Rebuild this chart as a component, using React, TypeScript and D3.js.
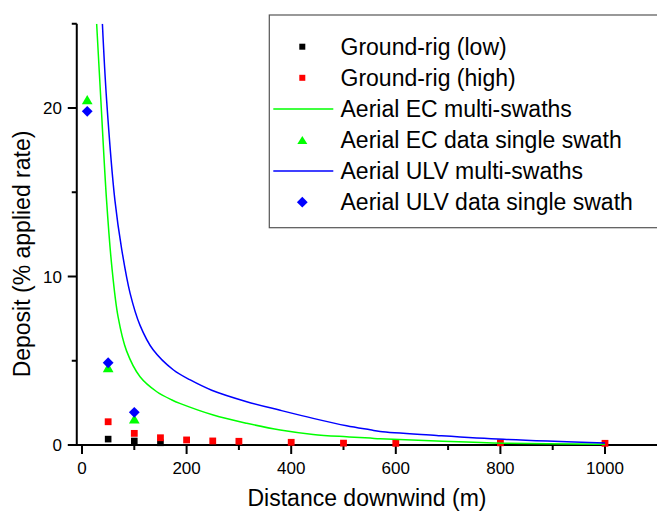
import React from "react";
import * as d3 from "d3";

const groundLowX = [50, 100, 150];
const groundLowY = [0.35, 0.24, 0.13];

const groundHighX = [50, 100, 150, 200, 250, 300, 400, 500, 600, 800, 1000];
const groundHighY = [1.38, 0.69, 0.43, 0.3, 0.24, 0.22, 0.16, 0.11, 0.1, 0.13, 0.1];

const ecLineX = [28, 36, 47, 57, 69, 85, 111, 143, 172, 187, 251, 315, 379, 442, 506, 551, 570, 678, 806, 1000];
const ecLineY = [25, 20.5, 14.5, 10.6, 7.6, 5.6, 4.05, 3.16, 2.67, 2.47, 1.78, 1.29, 0.89, 0.63, 0.49, 0.41, 0.37, 0.24, 0.11, 0.04];

const ecDataX = [10, 50, 100];
const ecDataY = [20.5, 4.6, 1.55];

const ulvLineX = [39, 47, 63, 76, 92, 111, 136, 175, 207, 248, 315, 379, 442, 506, 551, 570, 678, 806, 1000];
const ulvLineY = [25, 20.5, 14.5, 11.6, 9.0, 7.1, 5.65, 4.45, 3.86, 3.25, 2.57, 2.06, 1.58, 1.14, 0.9, 0.8, 0.57, 0.34, 0.12];

const ulvDataX = [10, 50, 100];
const ulvDataY = [19.8, 4.88, 1.94];

const xMajorTicks = [0, 200, 400, 600, 800, 1000];
const xMinorTicks = [100, 300, 500, 700, 900];
const yMajorTicks = [0, 10, 20];
const yMinorTicks = [5, 15, 25];

const legendLabels = [
  "Ground-rig (low)",
  "Ground-rig (high)",
  "Aerial EC multi-swaths",
  "Aerial EC data single swath",
  "Aerial ULV multi-swaths",
  "Aerial ULV data single swath",
];

const FONT = "'Liberation Sans', Arial, Helvetica, sans-serif";

export default function App() {
  const W = 657;
  const H = 511;
  const x = d3.scaleLinear().domain([-10, 1100]).range([76.77, 657.3]);
  const y = d3.scaleLinear().domain([0, 25]).range([445, 23.75]);
  const left = x(-10);
  const right = x(1100);
  const top = y(25);
  const bottom = y(0);

  const line = d3
    .line<[number, number]>()
    .x((d) => x(d[0]))
    .y((d) => y(d[1]))
    .curve(d3.curveCatmullRom.alpha(0.5));

  const ecPts = ecLineX.map((v, i) => [v, ecLineY[i]] as [number, number]);
  const ulvPts = ulvLineX.map((v, i) => [v, ulvLineY[i]] as [number, number]);

  const tri = (cx: number, cy: number, w: number, h: number) =>
    `M${cx},${cy - h / 2}L${cx + w / 2},${cy + h / 2}L${cx - w / 2},${cy + h / 2}Z`;
  const dia = (cx: number, cy: number, r: number) =>
    `M${cx},${cy - r}L${cx + r},${cy}L${cx},${cy + r}L${cx - r},${cy}Z`;

  const legRowY = (i: number) => 46.7 + i * 31.1;
  const legSymX = 302.3;

  return (
    <svg
      width={W}
      height={H}
      style={{ position: "absolute", left: 0, top: 0, background: "#fff" }}
      fontFamily={FONT}
    >
      <defs>
        <clipPath id="plotclip">
          <rect x={left} y={top} width={right - left} height={bottom - top} />
        </clipPath>
      </defs>
      <rect x={0} y={0} width={W} height={H} fill="#fff" />

      {/* axes */}
      <line x1={left} x2={left} y1={top} y2={bottom + 1} stroke="#000" strokeWidth={2} />
      <line x1={left - 1} x2={right} y1={bottom} y2={bottom} stroke="#000" strokeWidth={2} />
      {yMajorTicks.map((t) => (
        <g key={"ym" + t}>
          <line x1={left - 9} x2={left} y1={y(t)} y2={y(t)} stroke="#000" strokeWidth={2} />
          <text x={62} y={y(t)} dy="0.36em" textAnchor="end" fontSize={17} fill="#000">
            {t}
          </text>
        </g>
      ))}
      {yMinorTicks.map((t) => (
        <line key={"yn" + t} x1={left - 5} x2={left} y1={y(t)} y2={y(t)} stroke="#000" strokeWidth={2} />
      ))}
      {xMajorTicks.map((t) => (
        <g key={"xm" + t}>
          <line x1={x(t)} x2={x(t)} y1={bottom} y2={bottom + 9} stroke="#000" strokeWidth={2} />
          <text x={x(t)} y={473.5} textAnchor="middle" fontSize={17} fill="#000">
            {t}
          </text>
        </g>
      ))}
      {xMinorTicks.map((t) => (
        <line key={"xn" + t} x1={x(t)} x2={x(t)} y1={bottom} y2={bottom + 5} stroke="#000" strokeWidth={2} />
      ))}

      <text x={367} y={506} textAnchor="middle" fontSize={23} fill="#000">
        Distance downwind (m)
      </text>
      <text
        transform={`translate(30,254) rotate(-90)`}
        textAnchor="middle"
        fontSize={23}
        fill="#000"
      >
        Deposit (% applied rate)
      </text>

      {/* data */}
      <g>
        {groundLowX.map((v, i) => (
          <rect key={"gl" + i} x={x(v) - 3.3} y={y(groundLowY[i]) - 3.3} width={6.6} height={6.6} fill="#000" />
        ))}
        {groundHighX.map((v, i) => (
          <rect key={"gh" + i} x={x(v) - 3.4} y={y(groundHighY[i]) - 3.4} width={6.8} height={6.8} fill="#ff0000" />
        ))}
      </g>
      <g clipPath="url(#plotclip)">
        <path d={line(ecPts) || ""} fill="none" stroke="#00ff00" strokeWidth={1.5} />
        <path d={line(ulvPts) || ""} fill="none" stroke="#0000ff" strokeWidth={1.5} />
      </g>
      {ecDataX.map((v, i) => (
        <path key={"ec" + i} d={tri(x(v), y(ecDataY[i]), 10.7, 9.3)} fill="#00ff00" />
      ))}
      {ulvDataX.map((v, i) => (
        <path key={"ulv" + i} d={dia(x(v), y(ulvDataY[i]), 5.4)} fill="#0000ff" />
      ))}

      {/* legend */}
      <rect x={269.3} y={15} width={400} height={212.7} fill="#fff" stroke="#555" strokeWidth={1.2} />
      <rect x={legSymX - 3} y={legRowY(0) - 3} width={6} height={6} fill="#000" />
      <rect x={legSymX - 3} y={legRowY(1) - 3} width={6} height={6} fill="#ff0000" />
      <line x1={273.3} x2={333.3} y1={legRowY(2)} y2={legRowY(2)} stroke="#00ff00" strokeWidth={1.5} />
      <path d={tri(legSymX, legRowY(3), 10, 8)} fill="#00ff00" />
      <line x1={273.3} x2={333.3} y1={legRowY(4)} y2={legRowY(4)} stroke="#0000ff" strokeWidth={1.5} />
      <path d={dia(legSymX, legRowY(5), 5.4)} fill="#0000ff" />
      {legendLabels.map((l, i) => (
        <text key={l} x={340.5} y={legRowY(i)} dy="0.35em" fontSize={23} fill="#000">
          {l}
        </text>
      ))}
    </svg>
  );
}
